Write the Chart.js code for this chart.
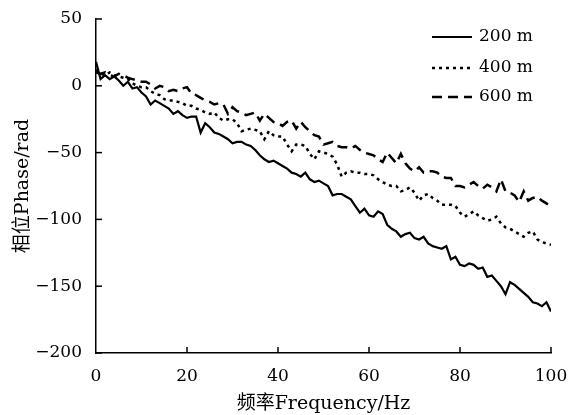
<!DOCTYPE html>
<html>
<head>
<meta charset="utf-8">
<script src="https://cdn.jsdelivr.net/npm/chart.js@4/dist/chart.umd.min.js"></script>
<style>
html,body{margin:0;padding:0;background:#fff;}
#wrap{width:577px;height:415px;position:relative;}
</style>
</head>
<body>
<div id="wrap"><canvas id="c" width="577" height="415"></canvas></div>
<script>
const frequencies = Array.from({length:101},(_,i)=>i);
const phase200 = [18,5,8,5,7,4,0,3,-2,-1,-5,-8,-14,-11,-13,-15,-17,-21,-19,-22,-24,-23,-23,-35,-28,-31,-35,-36,-38,-40,-43,-42,-42,-44,-45,-48,-52,-55,-57,-56,-58,-60,-62,-65,-66,-68,-65,-70,-72,-71,-73,-75,-82,-81,-81,-83,-85,-90,-95,-92,-97,-98,-94,-96,-104,-107,-109,-113,-111,-110,-114,-115,-113,-118,-120,-121,-122,-120,-130,-128,-134,-135,-133,-134,-137,-136,-143,-142,-146,-150,-156,-147,-149,-152,-155,-158,-162,-163,-165,-162,-169];
const phase400 = [12,9,8,10,8,7,6,5,2,0,-1,-1,-4,-6,-7,-10,-11,-11,-12,-13,-15,-15,-17,-18,-20,-21,-20,-24,-26,-25,-25,-28,-34,-33,-32,-33,-34,-40,-34,-37,-38,-38,-44,-49,-44,-44,-45,-51,-55,-49,-50,-51,-53,-59,-68,-65,-64,-65,-65,-66,-66,-67,-70,-72,-74,-75,-75,-79,-78,-76,-80,-86,-82,-81,-84,-86,-89,-89,-89,-90,-95,-98,-96,-94,-97,-99,-101,-100,-98,-103,-106,-107,-109,-111,-113,-110,-109,-115,-117,-118,-119];
const phase600 = [10,9,10,8,7,9,8,6,5,4,3,3,1,-2,0,-1,-4,-3,-4,-2,-1,-6,-7,-9,-11,-12,-14,-13,-14,-21,-16,-19,-20,-22,-21,-20,-26,-21,-24,-27,-28,-30,-27,-26,-32,-27,-31,-34,-37,-38,-44,-43,-42,-45,-46,-46,-47,-45,-48,-50,-51,-52,-55,-57,-50,-54,-58,-51,-58,-62,-64,-61,-65,-64,-64,-65,-68,-69,-69,-75,-75,-76,-74,-72,-75,-77,-74,-76,-79,-70,-79,-80,-82,-87,-79,-86,-84,-83,-86,-88,-91];
const seriesLabels = ['200 m','400 m','600 m'];
const xTicks = [0,20,40,60,80,100];
const yTicks = [50,0,-50,-100,-150,-200];

const serif = '"DejaVu Serif","Liberation Serif","Noto Sans CJK SC",serif';

function pts(arr){ return arr.map((v,i)=>({x:frequencies[i], y:v})); }

const inwardTicks = {
  id:'inwardTicks',
  afterDraw(chart){
    const ctx = chart.ctx, xs = chart.scales.x, ys = chart.scales.y, a = chart.chartArea;
    ctx.save();
    ctx.strokeStyle = '#000'; ctx.lineWidth = 1.5;
    xTicks.forEach(t=>{ if(t===0) return; const px = xs.getPixelForValue(t);
      ctx.beginPath(); ctx.moveTo(px, a.bottom); ctx.lineTo(px, a.bottom-6); ctx.stroke(); });
    yTicks.forEach(t=>{ const py = ys.getPixelForValue(t);
      ctx.beginPath(); ctx.moveTo(a.left, py); ctx.lineTo(a.left+6, py); ctx.stroke(); });
    // legend
    const x0 = 432, x1 = 472, rows=[37,68,97];
    chart.data.datasets.forEach((ds,i)=>{
      ctx.beginPath(); ctx.setLineDash(ds.borderDash||[]); ctx.lineWidth = ds.borderWidth;
      ctx.moveTo(x0, rows[i]); ctx.lineTo(x1, rows[i]); ctx.stroke();
      ctx.setLineDash([]);
      ctx.fillStyle = '#000'; ctx.font = '17px ' + serif; ctx.textBaseline='middle'; ctx.textAlign='left';
      ctx.fillText(ds.label, 479, rows[i]);
    });
    ctx.restore();
  }
};

new Chart(document.getElementById('c'), {
  type:'line',
  data:{ datasets:[
    {label:seriesLabels[0], data:pts(phase200), borderColor:'#000', borderWidth:2.2, pointRadius:0, tension:0},
    {label:seriesLabels[1], data:pts(phase400), borderColor:'#000', borderWidth:2.5, borderDash:[3,4], pointRadius:0, tension:0},
    {label:seriesLabels[2], data:pts(phase600), borderColor:'#000', borderWidth:2.5, borderDash:[10,6], pointRadius:0, tension:0}
  ]},
  options:{
    responsive:false, animation:false,
    layout:{padding:{left:0,right:26,top:19,bottom:0}},
    plugins:{legend:{display:false}, tooltip:{enabled:false}},
    scales:{
      x:{type:'linear', min:0, max:100,
        afterBuildTicks(s){ s.ticks = xTicks.map(v=>({value:v})); },
        afterFit(s){ s.height = 62; },
        grid:{display:false}, border:{display:true,color:'#000',width:1.5},
        ticks:{color:'#000', font:{family:serif,size:17}, padding:5, maxRotation:0, autoSkip:false},
        title:{display:true, text:'频率Frequency/Hz', color:'#000', font:{family:serif,size:19}, padding:{top:0,bottom:0}}
      },
      y:{type:'linear', min:-200, max:50,
        afterBuildTicks(s){ s.ticks = yTicks.map(v=>({value:v})); },
        afterFit(s){ s.width = 96; },
        grid:{display:false}, border:{display:true,color:'#000',width:1.5},
        ticks:{color:'#000', font:{family:serif,size:17}, padding:6, autoSkip:false,
          callback:(v)=> String(v).replace('-','\u2212')},
        title:{display:true, text:'相位Phase/rad', color:'#000', font:{family:serif,size:19}, padding:{top:12,bottom:4}}
      }
    }
  },
  plugins:[inwardTicks]
});
</script>
</body>
</html>
